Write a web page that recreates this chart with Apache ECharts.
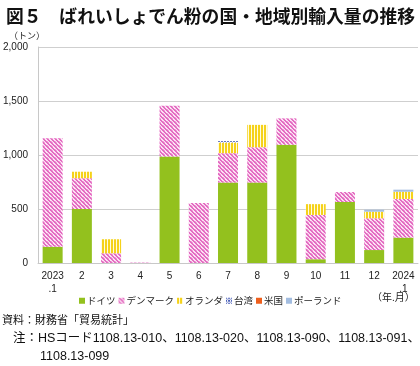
<!DOCTYPE html>
<html><head><meta charset="utf-8">
<script src="https://cdn.jsdelivr.net/npm/echarts@6/dist/echarts.min.js"></script>
<style>html,body{margin:0;padding:0;background:#fff}#c{width:420px;height:366px}</style>
</head><body><div id="c"></div>
<script>
const categories = ['2023\n.1','2','3','4','5','6','7','8','9','10','11','12','2024\n.1'];
const germany = [150,500,0,0,985,0,745,745,1095,35,565,120,235];
const denmark = [1005,285,90,4,470,555,272,327,244,410,92,294,358];
const oranda  = [0,60,130,0,0,0,98,207,0,100,0,61,67];
const taiwan  = [0,0,0,0,0,0,13,0,0,0,0,0,0];
const usa     = [0,0,0,0,0,0,0,0,0,0,0,0,0];
const poland  = [0,0,0,0,0,0,0,0,0,0,0,19,19];
const yTicks = [0,500,1000,1500,2000];

function pat(w,h,draw){const c=document.createElement('canvas');c.width=w;c.height=h;const g=c.getContext('2d');draw(g);return {image:c,repeat:'repeat'};}
const pinkPat = pat(4,4,g=>{g.fillStyle='#fbe3f3';g.fillRect(0,0,4,4);g.fillStyle='#e46cc2';
  g.fillRect(0,0,2,1);g.fillRect(1,1,2,1);g.fillRect(2,2,2,1);g.fillRect(3,3,1,1);g.fillRect(0,3,1,1);
  g.fillStyle='#f2a9dc';g.fillRect(3,1,1,1);g.fillRect(0,2,1,1);});
const yelPat = pat(3,4,g=>{g.fillStyle='#fffbe0';g.fillRect(0,0,3,4);g.fillStyle='#f5d21a';g.fillRect(0,0,2,4);});
const bluePat = pat(3,3,g=>{g.fillStyle='#fff';g.fillRect(0,0,3,3);g.fillStyle='#4a5fb8';g.fillRect(0,0,1,1);g.fillRect(2,0,1,1);g.fillRect(0,2,1,1);g.fillRect(2,2,1,1);g.fillStyle='#8b98d4';g.fillRect(1,1,1,1);});

const font = "'Liberation Sans','Noto Sans CJK JP',sans-serif";
const jfont = "'Liberation Sans','Noto Sans CJK JP'";
const chart = echarts.init(document.getElementById('c'),null,{renderer:'canvas'});
function s(name,data,color){return {name,type:'bar',stack:'t',data,barWidth:20,itemStyle:{color},emphasis:{disabled:true}};}
chart.setOption({
  animation:false,
  title:{text:'図５　ばれいしょでん粉の国・地域別輸入量の推移',left:1,top:2,textStyle:{fontSize:17.8,fontWeight:'bold',color:'#111',fontFamily:"'Noto Sans CJK JP',sans-serif"}},
  grid:{left:36,right:2,top:47,bottom:103,containLabel:false},
  legend:{left:74,top:291,itemWidth:6,itemHeight:6,itemGap:3,textStyle:{fontSize:9.5,color:'#222',fontFamily:"'Noto Sans CJK JP',sans-serif",padding:[0,0,0,-3]},icon:'rect',
    data:['ドイツ','デンマーク','オランダ','台湾','米国','ポーランド']},
  xAxis:{type:'category',data:categories,axisTick:{show:false},axisLine:{lineStyle:{color:'#c8c8c8',width:1}},
    axisLabel:{fontSize:10,color:'#222',margin:7,lineHeight:13,fontFamily:font}},
  yAxis:{type:'value',min:yTicks[0],max:yTicks[yTicks.length-1],interval:500,axisLine:{show:true,lineStyle:{color:'#c8c8c8'}},
    splitLine:{lineStyle:{color:'#cfcfcf'}},axisLabel:{fontSize:10,color:'#222',margin:10,fontFamily:font,formatter:v=>v.toLocaleString('en-US')}},
  series:[
    s('ドイツ',germany,'#93c11e'),
    s('デンマーク',denmark,pinkPat),
    s('オランダ',oranda,yelPat),
    s('台湾',taiwan,bluePat),
    s('米国',usa,'#ee5f1c'),
    s('ポーランド',poland,'#a3bde0')
  ],
  graphic:[
    {type:'text',left:9,top:31,style:{text:'（トン）',fill:'#222',font:"9px 'Noto Sans CJK JP'"}},
    {type:'text',left:372,top:292,style:{text:'（年.月）',fill:'#222',font:"10px 'Noto Sans CJK JP'"}},
    {type:'text',left:2,top:315,style:{text:'資料：財務省「貿易統計」',fill:'#111',font:"11px "+jfont}},
    {type:'text',left:13,top:332,style:{text:'注：HSコード1108.13-010、1108.13-020、1108.13-090、1108.13-091、',fill:'#111',font:"12.5px "+jfont}},
    {type:'text',left:40,top:350,style:{text:'1108.13-099',fill:'#111',font:"12.5px "+jfont}}
  ]
});
</script></body></html>
